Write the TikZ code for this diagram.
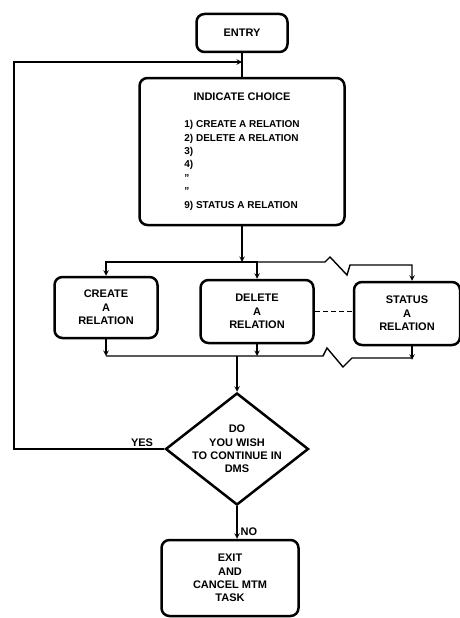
\documentclass[tikz,border=0pt]{standalone}
\usepackage{fontspec}
\setmainfont{Liberation Sans}
\usetikzlibrary{positioning,shapes,arrows}

\newcommand{\chartfont}{\bfseries\fontsize{11}{13.4}\selectfont}
\newcommand{\listfont}{\bfseries\fontsize{10}{13.4}\selectfont}

\begin{document}
\begin{tikzpicture}[
  x=1pt, y=-1pt,
  boxnode/.style={rectangle, draw=black, line width=2.5pt, rounded corners=8pt, align=center, font=\chartfont, inner sep=0pt},
  asknode/.style={diamond, draw=black, line width=2.5pt, inner sep=0pt, minimum width=143pt, minimum height=112pt},
  conn/.style={line width=1.4pt},
  lbl/.style={font=\chartfont, inner sep=1pt}
]
\useasboundingbox (0,0) rectangle (460,618);

%Nodes
\node[boxnode, minimum width=91pt, minimum height=38pt] (entry) at (242,33) {ENTRY};
\node[boxnode, minimum width=205pt, minimum height=147pt] (choice) at (242,151.5) {%
  \begin{tabular}{@{}l@{}}
  \multicolumn{1}{@{}c@{}}{INDICATE CHOICE}\\[14pt]
  \listfont 1) CREATE A RELATION\\
  \listfont 2) DELETE A RELATION\\
  \listfont 3)\\
  \listfont 4)\\
  \listfont ''\\
  \listfont ''\\
  \listfont 9) STATUS A RELATION
  \end{tabular}};
\node[boxnode, minimum width=103pt, minimum height=61pt] (create) at (106,307.5) {CREATE\\A\\RELATION};
\node[boxnode, minimum width=113pt, minimum height=63pt] (delete) at (257,311.5) {DELETE\\A\\RELATION};
\node[boxnode, minimum width=106pt, minimum height=63pt] (status) at (407,313.5) {STATUS\\A\\RELATION};
\node[asknode] (ask) at (237,449) {};
\node[lbl, align=center] (asktext) at (ask) {DO\\YOU WISH\\TO CONTINUE IN\\DMS};
\node[boxnode, minimum width=137pt, minimum height=76pt] (exit) at (230,578) {EXIT\\AND\\CANCEL MTM\\TASK};
\node[lbl, above left=1pt and 10pt of ask.west] (yes) {YES};

%Bus points
\coordinate (join) at (242,62);
\coordinate (loopcorner) at (14,62);
\coordinate (topbus) at (242,262);
\coordinate (topzig) at (325,262);
\coordinate (botbus) at (237,356);
\coordinate (botzig) at (323,356);

%Arrows
\draw[conn] (entry.south) -- (entry.south |- choice.north);
\draw[conn,-stealth] (choice.south) -- (topbus);
\draw[conn,-stealth] (topbus) -| (create.north);
\draw[conn,-stealth] (topbus) -| (delete.north);
\draw[conn,-stealth] (topbus) -- (topzig) -- ++(5,-5) -- ++(17,18) -- ++(3,-10) -| ([xshift=5pt]status.north);

\draw[conn,-stealth] (create.south) -- (create.south |- botbus);
\draw[conn,-stealth] (delete.south) -- (delete.south |- botbus);
\draw[conn,-stealth] ([xshift=5pt]status.south) -- ++(0,13.5);
\draw[conn] (create.south |- botbus) -- (botzig) -- ++(4,-8) -- ++(16,19) -- ++(9,-9) -| ([xshift=5pt]status.south);
\draw[conn, dash pattern=on 5pt off 3pt] (delete.east) -- (delete.east -| status.west);

\draw[conn,-stealth] (botbus) -- (ask.north);
\draw[conn,-stealth] (ask.west) -| (loopcorner) -- (join);
\draw[conn,-stealth] (ask.south) -- node[lbl, right, pos=0.77, xshift=2pt]{NO} (ask.south |- exit.north);
\end{tikzpicture}
\end{document}
